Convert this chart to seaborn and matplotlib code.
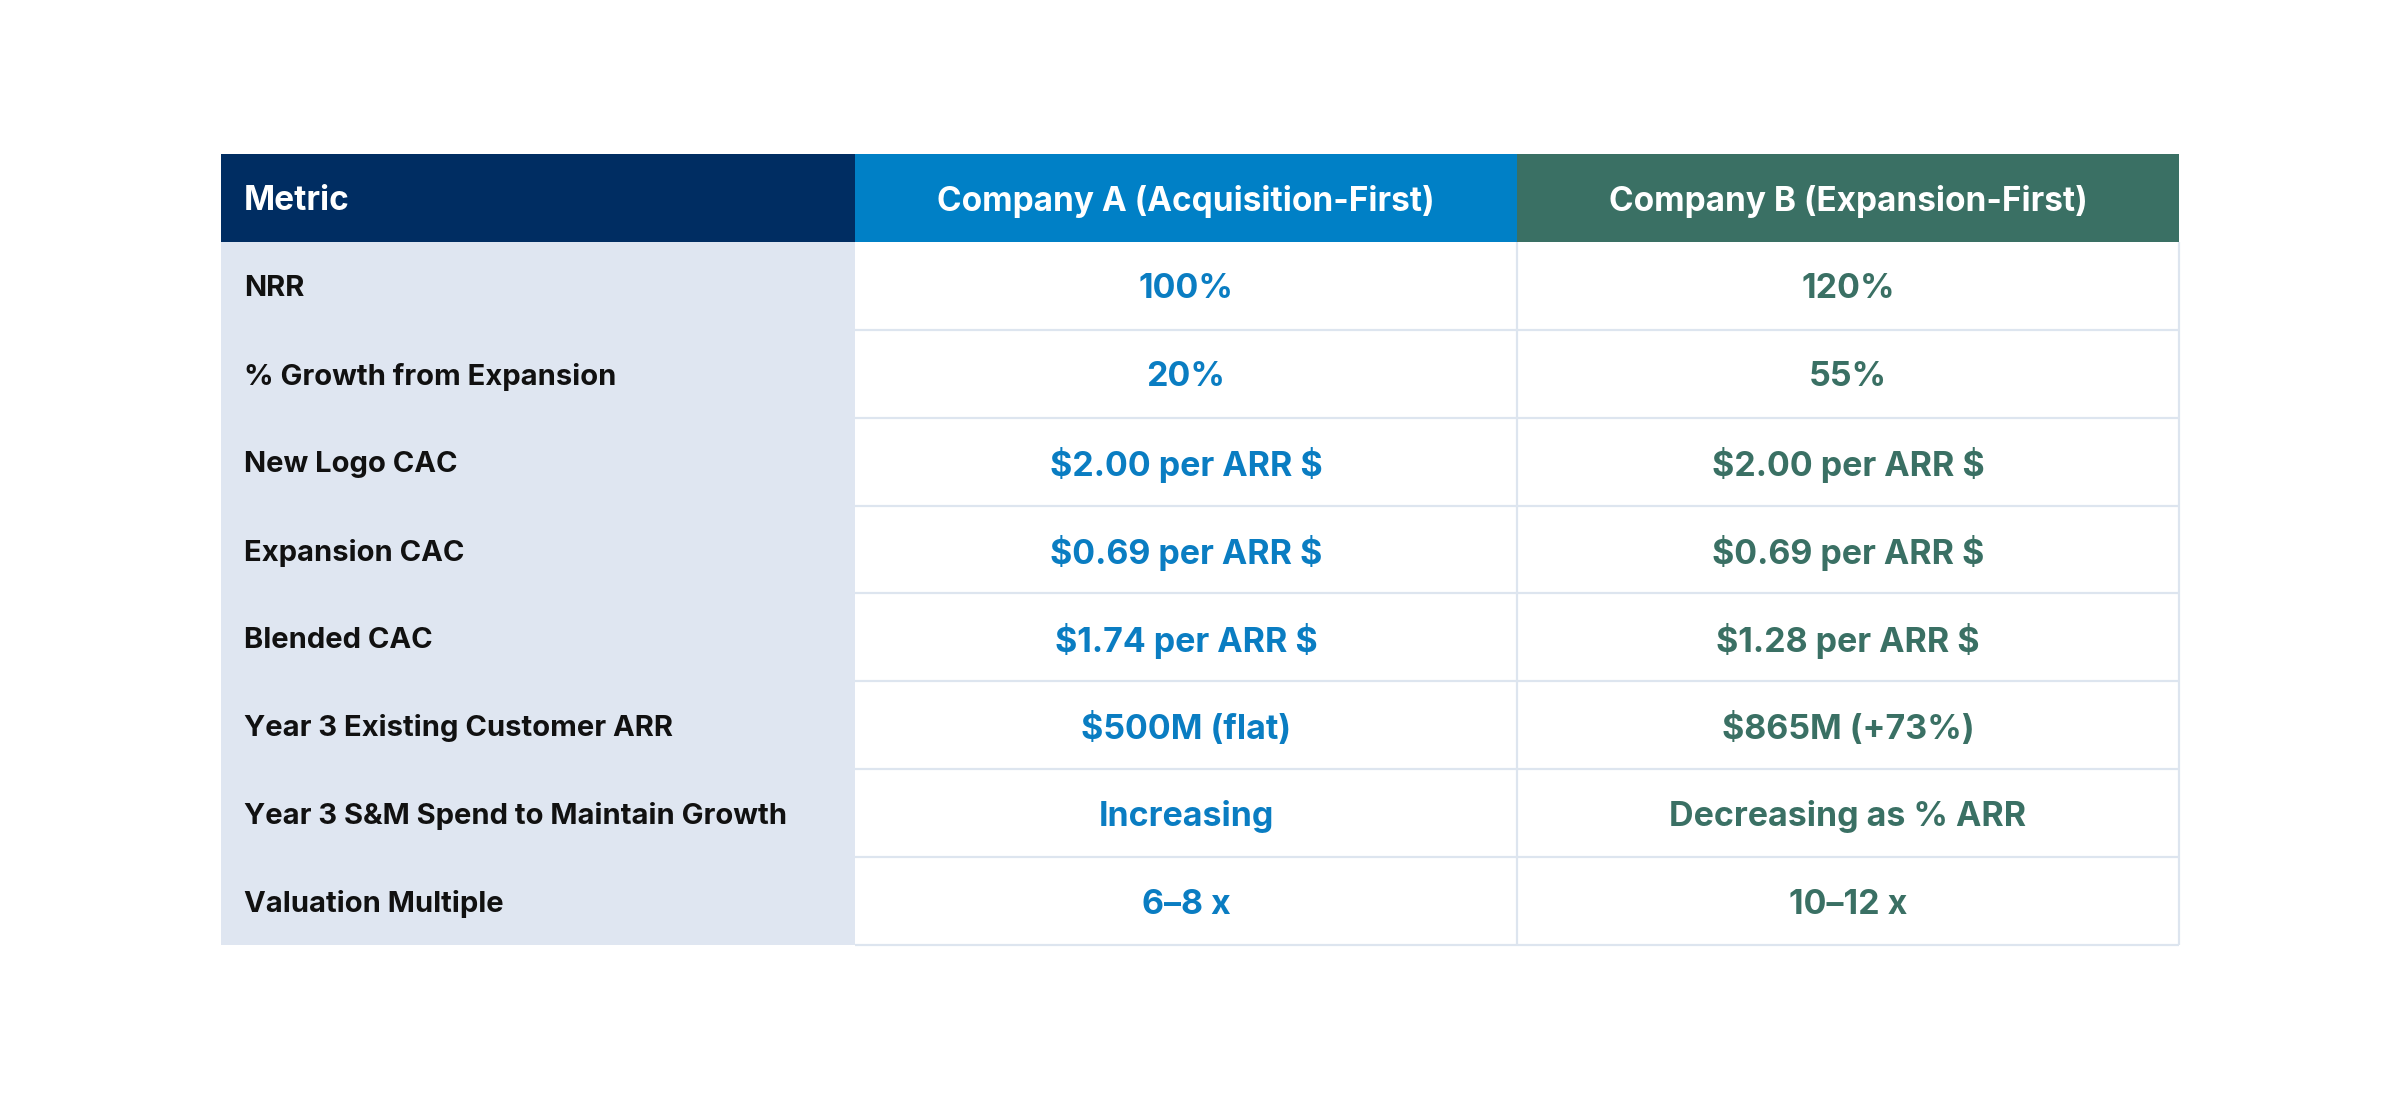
import seaborn as sns
import matplotlib.pyplot as plt
import pandas as pd
from matplotlib.colors import ListedColormap

# table content
headers = ["Metric", "Company A (Acquisition-First)", "Company B (Expansion-First)"]
metrics = [
    "NRR",
    "% Growth from Expansion",
    "New Logo CAC",
    "Expansion CAC",
    "Blended CAC",
    "Year 3 Existing Customer ARR",
    "Year 3 S&M Spend to Maintain Growth",
    "Valuation Multiple",
]
company_a = ["100%", "20%", "$2.00 per ARR $", "$0.69 per ARR $", "$1.74 per ARR $",
             "$500M (flat)", "Increasing", "6–8 x"]
company_b = ["120%", "55%", "$2.00 per ARR $", "$0.69 per ARR $", "$1.28 per ARR $",
             "$865M (+73%)", "Decreasing as % ARR", "10–12 x"]

NAVY = "#002d62"
BLUE = "#0080c6"
GREEN = "#3a7064"
LIGHT = "#dfe6f1"
GRID = "#dde5ef"
TEXT_A = "#0a7dc2"
TEXT_B = "#3a7064"

sns.set_theme(style="white")
plt.rcParams["font.family"] = ["Inter", "DejaVu Sans"]

fig = plt.figure(figsize=(24, 11), dpi=100)
fig.patch.set_facecolor("white")

n = len(metrics)
bottom, height = 0.1409, 0.7191

# metric column: header cell + light cells
metric_codes = pd.DataFrame({"Metric": [0] + [1] * n})
ax_m = fig.add_axes([0.0921, bottom, 0.2642, height])
sns.heatmap(metric_codes, cmap=ListedColormap([NAVY, LIGHT]), vmin=0, vmax=1,
            cbar=False, xticklabels=False, yticklabels=False, linewidths=0, ax=ax_m)

# company columns: coloured header cells + white cells
comp_codes = pd.DataFrame({"A": [0] + [2] * n, "B": [1] + [2] * n})
ax_c = fig.add_axes([0.35625, bottom, 0.55167, height])
sns.heatmap(comp_codes, cmap=ListedColormap([BLUE, GREEN, "white"]), vmin=0, vmax=2,
            cbar=False, xticklabels=False, yticklabels=False, linewidths=0, ax=ax_c)

# light grid lines in the value area
ax_c.hlines(range(2, n + 2), 0, 2, color=GRID, lw=1.6, clip_on=False)
ax_c.vlines([1, 2], 1, n + 1, color=GRID, lw=1.6, clip_on=False)

HEAD_FS, LABEL_FS, VAL_FS = 24, 21, 24.5

# header text
ax_m.annotate(headers[0], (0, 0.5), xytext=(16.5, 0), textcoords="offset points",
              ha="left", va="center_baseline", color="white", fontsize=HEAD_FS,
              fontweight="bold", parse_math=False)
for j, h in enumerate(headers[1:]):
    ax_c.text(j + 0.5, 0.5, h, ha="center", va="center_baseline", color="white",
              fontsize=HEAD_FS, fontweight="bold", parse_math=False)

# body text
for i, m in enumerate(metrics):
    y = i + 1.5
    ax_m.annotate(m, (0, y), xytext=(16.5, 0), textcoords="offset points",
                  ha="left", va="center_baseline", color="#111111", fontsize=LABEL_FS,
                  fontweight="bold", parse_math=False)
    ax_c.text(0.5, y, company_a[i], ha="center", va="center_baseline", color=TEXT_A,
              fontsize=VAL_FS, fontweight="bold", parse_math=False)
    ax_c.text(1.5, y, company_b[i], ha="center", va="center_baseline", color=TEXT_B,
              fontsize=VAL_FS, fontweight="bold", parse_math=False)

for ax in (ax_m, ax_c):
    ax.set_xlabel("")
    ax.set_ylabel("")
    for s in ax.spines.values():
        s.set_visible(False)

fig.savefig("out.png", dpi=100, facecolor="white")
